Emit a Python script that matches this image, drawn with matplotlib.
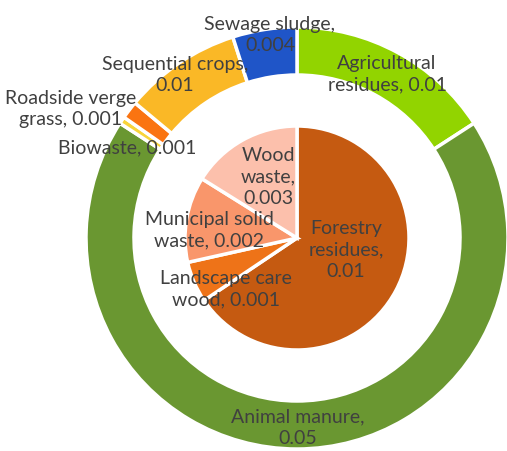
import matplotlib
matplotlib.use("Agg")
import matplotlib.pyplot as plt

# outer ring (doughnut)
outer_names = ["Agricultural\nresidues", "Animal manure", "Biowaste",
               "Roadside verge\ngrass", "Sequential crops", "Sewage sludge"]
outer_values = [0.0116, 0.05, 0.0004, 0.001, 0.0066, 0.0036]
outer_labels = ["Agricultural\nresidues, 0.01", "Animal manure,\n0.05", "Biowaste, 0.001",
                "Roadside verge\ngrass, 0.001", "Sequential crops,\n0.01", "Sewage sludge,\n0.004"]
outer_colors = ["#92D400", "#6A9731", "#F8D43A", "#FA7411", "#FAB826", "#1F55C8"]

# inner pie
inner_names = ["Forestry residues", "Landscape care wood", "Municipal solid waste", "Wood waste"]
inner_values = [0.0122, 0.0011, 0.0023, 0.003]
inner_labels = ["Forestry\nresidues,\n0.01", "Landscape care\nwood, 0.001",
                "Municipal solid\nwaste, 0.002", "Wood\nwaste,\n0.003"]
inner_colors = ["#C55A11", "#EE7318", "#F9966B", "#FCC0AC"]

W, H = 507, 451
fig = plt.figure(figsize=(W / 100, H / 100), dpi=100)
ax = fig.add_axes([0, 0, 1, 1])

cx, cy = 297, H - 238

ax.pie(outer_values, colors=outer_colors, startangle=90, counterclock=False,
       center=(cx, cy), radius=211, frame=True,
       wedgeprops=dict(width=48, edgecolor="white", linewidth=2.5))
ax.pie(inner_values, colors=inner_colors, startangle=90, counterclock=False,
       center=(cx, cy), radius=112, frame=True,
       wedgeprops=dict(edgecolor="white", linewidth=2.5))
ax.set_xlim(0, W)
ax.set_ylim(0, H)
ax.set_aspect("equal")
ax.axis("off")

# label centres in pixels from top-left
outer_pos = [(387, 74), (298, 428), (127, 148), (71, 109), (175, 75), (270, 35)]
inner_pos = [(346, 250), (226, 289), (209, 230), (268, 177)]

font = dict(family="Lato", fontsize=14, color="#404040", ha="center", va="center",
            linespacing=1.35)
for (x, y), t in zip(outer_pos, outer_labels):
    ax.text(x, H - y, t, **font)
for (x, y), t in zip(inner_pos, inner_labels):
    ax.text(x, H - y, t, **font)

fig.savefig("out.png", dpi=100)
